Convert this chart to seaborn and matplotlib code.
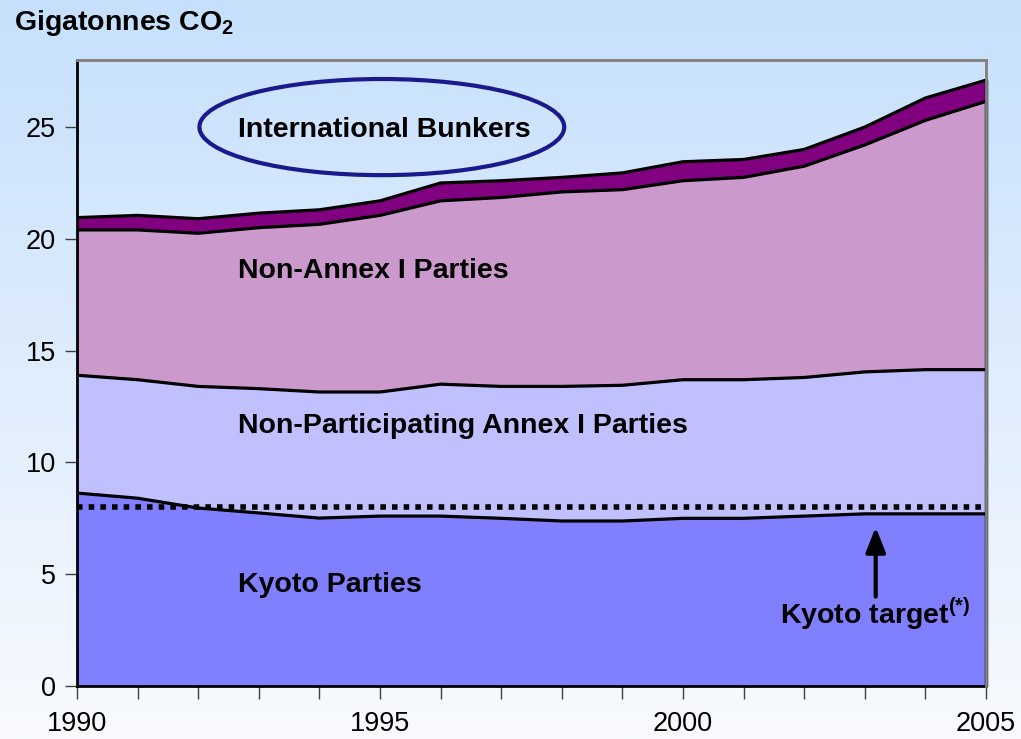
import numpy as np
import pandas as pd
import matplotlib
matplotlib.use("Agg")
import matplotlib.pyplot as plt
import seaborn as sns
from matplotlib.patches import Ellipse

years = list(range(1990, 2006))
# cumulative upper boundaries (Gt CO2)
kyoto_top = [8.63, 8.40, 7.96, 7.74, 7.51, 7.60, 7.60, 7.50, 7.38, 7.38, 7.50, 7.50, 7.60, 7.70, 7.70, 7.70]
nonpart_top = [13.90, 13.70, 13.40, 13.30, 13.15, 13.15, 13.50, 13.40, 13.40, 13.45, 13.70, 13.70, 13.80, 14.05, 14.15, 14.15]
nonannex_top = [20.40, 20.40, 20.25, 20.50, 20.65, 21.05, 21.70, 21.85, 22.10, 22.20, 22.60, 22.75, 23.25, 24.20, 25.30, 26.15]
bunkers_top = [20.95, 21.05, 20.90, 21.15, 21.30, 21.70, 22.50, 22.60, 22.75, 22.95, 23.45, 23.55, 24.00, 25.00, 26.30, 27.10]
kyoto_target = 8.0

series_names = ["Kyoto Parties", "Non-Participating Annex I Parties", "Non-Annex I Parties", "International Bunkers"]
series_colors = ["#8080ff", "#c0c0ff", "#cc99cc", "#800080"]
y_ticks = [0, 5, 10, 15, 20, 25]
x_ticklabels = [1990, 1995, 2000, 2005]

sns.set_style("white")
plt.rcParams["font.family"] = ["Liberation Sans", "DejaVu Sans"]
plt.rcParams["mathtext.fontset"] = "custom"
plt.rcParams["mathtext.rm"] = "Liberation Sans"
plt.rcParams["mathtext.bf"] = "Liberation Sans:bold"

df = pd.DataFrame({"year": years, "k": kyoto_top, "np": nonpart_top,
                   "na": nonannex_top, "ib": bunkers_top})

fig = plt.figure(figsize=(10.21, 7.39), dpi=100)

# background gradient
bg = fig.add_axes([0, 0, 1, 1], zorder=-10)
top_c = np.array([198, 224, 252]) / 255.0
bot_c = np.array([248, 250, 254]) / 255.0
t = np.linspace(0, 1, 256)[:, None]
grad = top_c[None, :] * (1 - t) + bot_c[None, :] * t
bg.imshow(grad[:, None, :], aspect="auto", extent=[0, 1, 0, 1])
bg.axis("off")

ax = fig.add_axes([77 / 1021, 1 - 686 / 739, (986 - 77) / 1021, (686 - 60) / 739])
ax.patch.set_alpha(0)

lowers = [np.zeros(len(years)), df["k"], df["np"], df["na"]]
uppers = [df["k"], df["np"], df["na"], df["ib"]]
for lo, up, c in zip(lowers, uppers, series_colors):
    ax.fill_between(df["year"], lo, up, color=c, linewidth=0, zorder=1)
for col in ["k", "np", "na", "ib"]:
    sns.lineplot(data=df, x="year", y=col, ax=ax, color="black", linewidth=2.3, zorder=3)

# Kyoto target dotted line
ax.plot([years[0], years[-1]], [kyoto_target, kyoto_target], color="black",
        linewidth=4, linestyle=(0, (1, 1.1)), zorder=4)

ax.set_xlim(1990, 2005)
ax.set_ylim(0, 28)
ax.set_xlabel("")
ax.set_ylabel("")
ax.set_yticks(y_ticks)
ax.set_yticklabels([str(v) for v in y_ticks])
ax.set_xticks(years)
ax.set_xticklabels([str(y) if y in x_ticklabels else "" for y in years])
ax.tick_params(axis="both", which="both", direction="out", length=9, width=1,
               color="#404040", labelsize=19.5, labelcolor="black",
               bottom=True, left=True)
ax.tick_params(axis="x", pad=9)
ax.tick_params(axis="y", pad=6)
for s in ["left", "bottom"]:
    ax.spines[s].set_color("black")
    ax.spines[s].set_linewidth(2)
for s in ["top", "right"]:
    ax.spines[s].set_color("#808080")
    ax.spines[s].set_linewidth(2)
ax.spines["right"].set_zorder(5)
ax.plot([2005, 2005], [0, bunkers_top[-1]], color="black", linewidth=2.5, zorder=5, clip_on=False)

lab = dict(fontsize=20.5, fontweight="bold", color="black", va="center", ha="left", zorder=6)
ax.text(1992.66, 24.85, "International Bunkers", **lab)
ax.text(1992.66, 18.55, "Non-Annex I Parties", **lab)
ax.text(1992.66, 11.65, "Non-Participating Annex I Parties", **lab)
ax.text(1992.66, 4.5, "Kyoto Parties", **lab)
ax.text(2004.74, 3.2, r"Kyoto target$^{\mathbf{(*)}}$", fontsize=20.5, fontweight="bold",
        color="black", va="center", ha="right", zorder=6)

ax.add_patch(Ellipse((1995.03, 25.0), 6.02, 4.3, fill=False, edgecolor="#1a1a8c",
                     linewidth=3, zorder=6))
ax.annotate("", xy=(2003.18, 7.1), xytext=(2003.18, 4.0),
            arrowprops=dict(arrowstyle="-|>,head_width=0.6,head_length=1.5",
                            color="black", linewidth=3, shrinkA=0, shrinkB=0), zorder=6)

fig.text(14 / 1021, 1 - 23 / 739, r"Gigatonnes CO$_{\mathbf{2}}$", fontsize=20.5,
         fontweight="bold", ha="left", va="center", color="black")

fig.savefig("out.png", dpi=100)
